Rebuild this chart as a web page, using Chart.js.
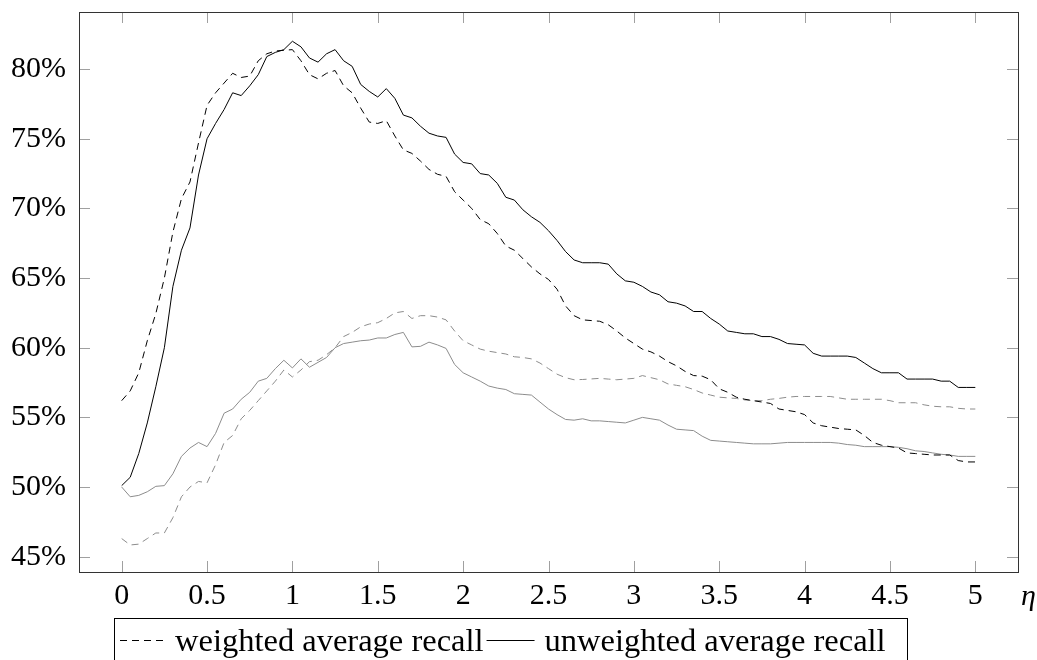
<!DOCTYPE html>
<html>
<head>
<meta charset="utf-8">
<script src="https://cdn.jsdelivr.net/npm/chart.js@4.4.0/dist/chart.umd.min.js"></script>
<style>
  html, body { margin: 0; padding: 0; background: #fff; overflow: hidden; }
</style>
</head>
<body>
<canvas id="grafico" width="1037" height="660"></canvas>
<script>
// valores de eta (eixo x)
var eta = [0,0.05,0.1,0.15,0.2,0.25,0.3,0.35,0.4,0.45,0.5,0.55,0.6,0.65,0.7,0.75,0.8,0.85,0.9,0.95,
  1,1.05,1.1,1.15,1.2,1.25,1.3,1.35,1.4,1.45,1.5,1.55,1.6,1.65,1.7,1.75,1.8,1.85,1.9,1.95,
  2,2.05,2.1,2.15,2.2,2.25,2.3,2.35,2.4,2.45,2.5,2.55,2.6,2.65,2.7,2.75,2.8,2.85,2.9,2.95,
  3,3.05,3.1,3.15,3.2,3.25,3.3,3.35,3.4,3.45,3.5,3.55,3.6,3.65,3.7,3.75,3.8,3.85,3.9,3.95,
  4,4.05,4.1,4.15,4.2,4.25,4.3,4.35,4.4,4.45,4.5,4.55,4.6,4.65,4.7,4.75,4.8,4.85,4.9,4.95,5];

// recall ponderado (preto tracejado)
var weighted = [56.2,56.9,58.2,60.5,62.45,65.0,68.3,70.7,71.9,74.7,
  77.4,78.3,79.0,79.7,79.4,79.5,80.6,81.1,81.3,81.35,
  81.4,80.6,79.6,79.3,79.7,79.9,78.8,78.3,77.2,76.2,
  76.1,76.3,75.2,74.2,73.95,73.4,72.8,72.45,72.3,71.2,
  70.6,70.0,69.2,68.9,68.2,67.3,67.0,66.4,65.8,65.3,
  64.9,64.2,63.0,62.3,62.0,61.95,61.9,61.65,61.2,60.7,
  60.3,59.9,59.7,59.4,59.0,58.7,58.3,58.0,57.96,57.7,
  57.05,56.8,56.45,56.3,56.2,56.1,56.0,55.6,55.5,55.4,
  55.2,54.6,54.4,54.3,54.2,54.15,54.1,53.7,53.2,53.0,
  52.9,52.8,52.45,52.4,52.35,52.3,52.3,52.3,51.9,51.8,
  51.8];

// recall não ponderado (preto contínuo)
var unweighted = [50.1,50.7,52.4,54.6,57.2,60.0,64.4,67.0,68.6,72.4,
  75.0,76.1,77.1,78.3,78.1,78.8,79.6,80.9,81.2,81.4,
  82.0,81.6,80.8,80.5,81.1,81.4,80.6,80.2,78.9,78.4,
  78.0,78.6,77.9,76.7,76.5,75.9,75.4,75.2,75.1,73.9,
  73.3,73.2,72.5,72.4,71.8,70.8,70.6,69.9,69.4,69.0,
  68.4,67.7,66.9,66.3,66.1,66.1,66.1,66.0,65.3,64.8,
  64.7,64.4,64.0,63.8,63.3,63.2,63.0,62.6,62.6,62.1,
  61.7,61.2,61.1,61.0,61.0,60.8,60.8,60.6,60.3,60.25,
  60.2,59.6,59.4,59.4,59.4,59.4,59.3,58.9,58.5,58.2,
  58.2,58.2,57.75,57.75,57.75,57.75,57.6,57.6,57.15,57.15,
  57.15];

// séries cinzas
var weightedGray = [46.3,45.84,45.9,46.3,46.7,46.7,47.8,49.3,50.0,50.4,
  50.3,51.6,53.2,53.7,54.9,55.5,56.2,56.9,57.6,58.4,
  57.9,58.4,59.0,59.1,59.5,60.0,60.8,61.1,61.5,61.7,
  61.8,62.1,62.5,62.6,62.1,62.3,62.3,62.2,62.0,61.2,
  60.5,60.2,59.9,59.75,59.65,59.55,59.35,59.3,59.2,58.9,
  58.5,58.1,57.85,57.7,57.72,57.76,57.8,57.75,57.7,57.75,
  57.8,58.0,57.85,57.7,57.4,57.3,57.2,57.0,56.75,56.6,
  56.45,56.4,56.36,56.25,56.2,56.2,56.3,56.36,56.45,56.5,
  56.5,56.5,56.5,56.5,56.4,56.3,56.3,56.3,56.3,56.3,
  56.2,56.05,56.05,56.05,55.9,55.8,55.76,55.76,55.65,55.6,
  55.6];

var unweightedGray = [50.0,49.3,49.4,49.66,50.05,50.1,50.95,52.2,52.8,53.2,
  52.9,53.85,55.3,55.6,56.3,56.8,57.6,57.8,58.5,59.1,
  58.55,59.2,58.6,58.95,59.3,60.0,60.3,60.4,60.5,60.55,
  60.7,60.7,60.95,61.1,60.06,60.1,60.4,60.2,59.95,58.8,
  58.2,57.9,57.6,57.25,57.1,57.0,56.7,56.65,56.6,56.1,
  55.6,55.2,54.85,54.8,54.9,54.75,54.75,54.7,54.65,54.6,
  54.8,55.0,54.9,54.8,54.45,54.15,54.1,54.05,53.65,53.35,
  53.3,53.25,53.2,53.15,53.1,53.1,53.1,53.15,53.2,53.2,
  53.2,53.2,53.2,53.2,53.15,53.05,53.0,52.9,52.9,52.9,
  52.9,52.85,52.75,52.6,52.55,52.45,52.35,52.3,52.2,52.2,
  52.2];

var xTicks = [0, 0.5, 1, 1.5, 2, 2.5, 3, 3.5, 4, 4.5, 5];
var yTicks = [45, 50, 55, 60, 65, 70, 75, 80];

var fonte = '"Liberation Serif", "Times New Roman", serif';
var tracejado = [7, 5];

function pontos(valores) {
  return eta.map(function (x, i) { return { x: x, y: valores[i] }; });
}

// moldura estilo pgfplots: ticks para dentro, rótulo eta e legenda com caixa
var moldura = {
  id: 'moldura',
  afterDraw: function (chart) {
    var ctx = chart.ctx, a = chart.chartArea;
    var x = chart.scales.x, y = chart.scales.y;
    ctx.save();
    ctx.lineWidth = 1;
    ctx.strokeStyle = '#a0a0a0';
    ctx.beginPath();
    xTicks.forEach(function (v) {
      var px = Math.round(x.getPixelForValue(v)) + 0.5;
      ctx.moveTo(px, a.bottom); ctx.lineTo(px, a.bottom - 11);
      ctx.moveTo(px, a.top); ctx.lineTo(px, a.top + 11);
    });
    yTicks.forEach(function (v) {
      var py = Math.round(y.getPixelForValue(v)) + 0.5;
      ctx.moveTo(a.left, py); ctx.lineTo(a.left + 11, py);
      ctx.moveTo(a.right, py); ctx.lineTo(a.right - 11, py);
    });
    ctx.stroke();

    ctx.strokeStyle = '#333';
    ctx.strokeRect(Math.round(a.left) + 0.5, Math.round(a.top) + 0.5,
      Math.round(a.right - a.left), Math.round(a.bottom - a.top));

    // eta
    ctx.fillStyle = '#000';
    ctx.font = 'italic 30px ' + fonte;
    ctx.textAlign = 'left';
    ctx.textBaseline = 'alphabetic';
    ctx.fillText('η', a.right + 3, a.bottom + 33);

    // legenda (só as duas séries pretas)
    ctx.font = '32.5px ' + fonte;
    var caixaEsq = a.left + 35, caixaTopo = a.bottom + 46;
    var cx = caixaEsq + 6, linhaY = caixaTopo + 22.5, baseY = caixaTopo + 33;
    var amostras = [45, 48];
    chart.data.datasets.slice(0, 2).forEach(function (ds, i) {
      ctx.strokeStyle = ds.borderColor;
      ctx.setLineDash(ds.borderDash || []);
      ctx.beginPath();
      ctx.moveTo(cx, linhaY); ctx.lineTo(cx + amostras[i], linhaY);
      ctx.stroke();
      ctx.setLineDash([]);
      cx += amostras[i] + 10;
      ctx.fillText(ds.label, cx, baseY);
      cx += ctx.measureText(ds.label).width + 3;
    });
    ctx.strokeStyle = '#000';
    ctx.strokeRect(Math.round(caixaEsq) + 0.5, Math.round(caixaTopo) + 0.5,
      Math.round(cx + 18 - caixaEsq), 80);
    ctx.restore();
  }
};

var grafico = new Chart(document.getElementById('grafico').getContext('2d'), {
  type: 'line',
  data: {
    datasets: [{
      label: 'weighted average recall',
      data: pontos(weighted),
      borderColor: '#000',
      borderWidth: 1,
      borderDash: tracejado
    }, {
      label: 'unweighted average recall',
      data: pontos(unweighted),
      borderColor: '#000',
      borderWidth: 1
    }, {
      label: 'weighted (gray)',
      data: pontos(weightedGray),
      borderColor: '#8c8c8c',
      borderWidth: 1,
      borderDash: tracejado
    }, {
      label: 'unweighted (gray)',
      data: pontos(unweightedGray),
      borderColor: '#8c8c8c',
      borderWidth: 1
    }]
  },
  options: {
    responsive: false,
    animation: false,
    layout: { padding: { left: 0, right: 19, top: 12, bottom: 0 } },
    elements: { point: { radius: 0 }, line: { tension: 0 } },
    plugins: {
      tooltip: { enabled: false },
      legend: { display: false }
    },
    scales: {
      x: {
        type: 'linear',
        min: -0.25,
        max: 5.25,
        afterBuildTicks: function (s) { s.ticks = xTicks.map(function (v) { return { value: v }; }); },
        afterFit: function (s) { s.height = 88; },
        grid: { display: false, drawTicks: false },
        border: { display: false },
        ticks: {
          padding: 6,
          color: '#000',
          maxRotation: 0,
          font: { family: fonte, size: 30 },
          callback: function (v) { return String(v); }
        }
      },
      y: {
        min: 43.9,
        max: 84.1,
        afterBuildTicks: function (s) { s.ticks = yTicks.map(function (v) { return { value: v }; }); },
        afterFit: function (s) { s.width = 79; s.paddingTop = 0; s.paddingBottom = 0; },
        grid: { display: false, drawTicks: false },
        border: { display: false },
        ticks: {
          padding: 13,
          color: '#000',
          font: { family: fonte, size: 30 },
          callback: function (v) { return v + '%'; }
        }
      }
    }
  },
  plugins: [moldura]
});
</script>
</body>
</html>
